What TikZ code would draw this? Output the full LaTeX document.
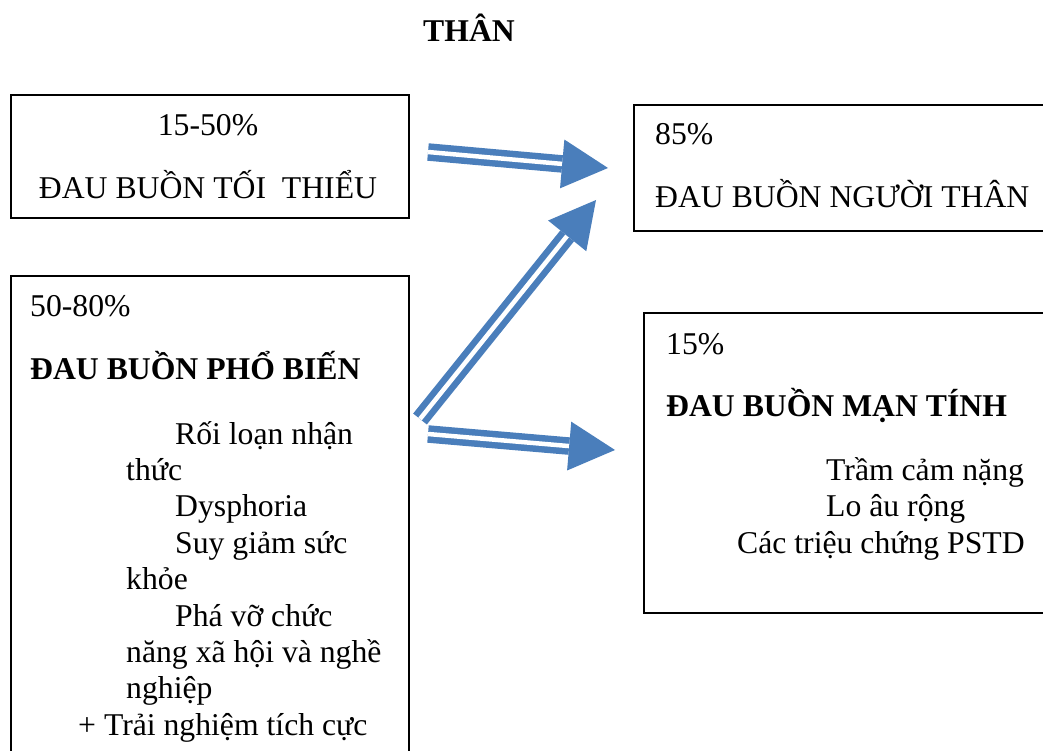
\documentclass[tikz,border=0pt]{standalone}
\usepackage{fontspec}
\setmainfont{Liberation Serif}
\usetikzlibrary{arrows.meta}
\definecolor{arrowblue}{RGB}{74,126,187}
\newcommand\bodysize{\fontsize{31.7}{36.5}\selectfont}

\begin{document}
\begin{tikzpicture}[x=1pt,y=-1pt]
                  \tikzstyle{every node}+=[inner sep=0pt, font=\bodysize]
                  \tikzstyle{box}=[draw=black, line width=1.6pt, anchor=north west]
                  \tikzstyle{dblarrow}=[draw=arrowblue, line width=6.5pt, double=white, double distance=4.5pt, -{Triangle[length=46pt,width=49pt,line width=0pt]}]
                  \useasboundingbox (0,0) rectangle (1043,751);
                  \node [anchor=base, font=\bodysize\bfseries] (title) at (469,42) {THÂN};
                  % boxes
                  \node [box, minimum width=398pt, minimum height=123pt] (minbox) at (10,94) {};
                  \node [box, minimum width=398pt, minimum height=500pt] (commonbox) at (10,275) {};
                  \node [box, minimum width=430pt, minimum height=126pt] (kinbox) at (633,104) {};
                  \node [box, minimum width=420pt, minimum height=300pt] (chronicbox) at (643,312) {};
                  % texts
                  \node [anchor=base] (minpct) at (208,136) {15-50\%};
                  \node [anchor=base] (minname) at (208,199) {ĐAU BUỒN TỐI~ THIỂU};
                  \node [anchor=base west] (commonpct) at (30,316) {50-80\%};
                  \node [anchor=base west, font=\bodysize\bfseries] (commonname) at (30,379) {ĐAU BUỒN PHỔ BIẾN};
                  \foreach \x/\t [count=\i] in {175/{Rối loạn nhận}, 126/{thức}, 175/{Dysphoria},
                      175/{Suy giảm sức}, 126/{khỏe}, 175/{Phá vỡ chức}, 126/{năng xã hội và nghề},
                      126/{nghiệp}, 78/{+ Trải nghiệm tích cực}}
                    \node [anchor=base west] (common\i) at (\x,407.6+36.4*\i) {\t};
                  \node [anchor=base west] (kinpct) at (655,145) {85\%};
                  \node [anchor=base west] (kinname) at (655,208) {ĐAU BUỒN NGƯỜI THÂN};
                  \node [anchor=base west] (chronicpct) at (666,354) {15\%};
                  \node [anchor=base west, font=\bodysize\bfseries] (chronicname) at (666,416) {ĐAU BUỒN MẠN TÍNH};
                  \node [anchor=base west] (chronic1) at (826,480) {Trầm cảm nặng};
                  \node [anchor=base west] (chronic2) at (826,516) {Lo âu rộng};
                  \node [anchor=base west] (chronic3) at (737,553) {Các triệu chứng PSTD};
                  % arrows
                  \coordinate (a1s) at (428,152);
                  \coordinate (a1e) at (608,168);
                  \coordinate (a2s) at (420,419);
                  \coordinate (a2e) at (596,200);
                  \coordinate (a3s) at (428,434);
                  \coordinate (a3e) at (615,450);
                  \draw [dblarrow] (a1s) -- (a1e);
                  \draw [dblarrow] (a2s) -- (a2e);
                  \draw [dblarrow] (a3s) -- (a3e);
\end{tikzpicture}
\end{document}
